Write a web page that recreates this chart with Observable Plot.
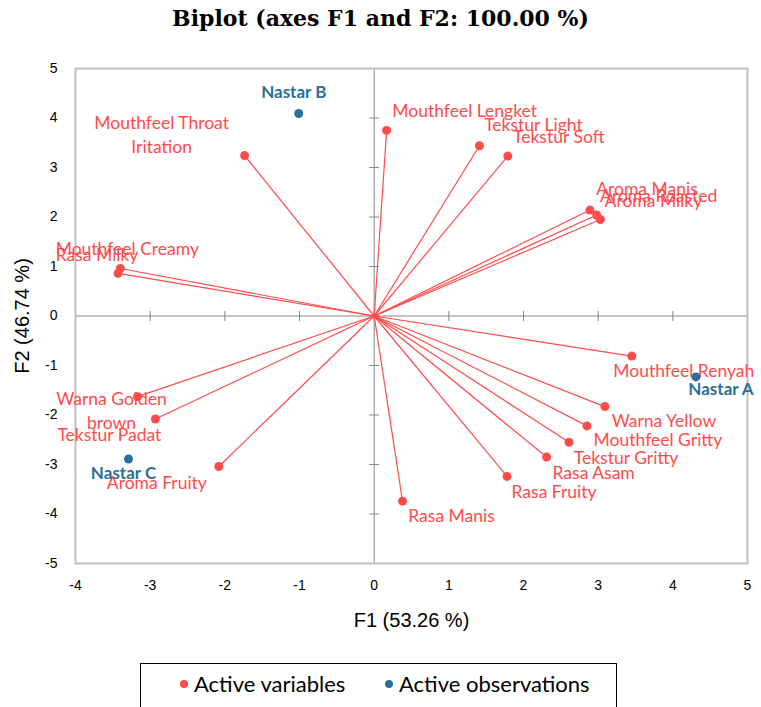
<!DOCTYPE html>
<html>
<head>
<meta charset="utf-8">
<script src="https://cdn.jsdelivr.net/npm/d3@7"></script>
<script src="https://cdn.jsdelivr.net/npm/@observablehq/plot@0.6"></script>
<style>
  html, body { margin: 0; padding: 0; background: #fff; width: 761px; height: 707px; overflow: hidden; }
  #wrap { position: relative; width: 761px; height: 707px; }
  #title { position: absolute; top: 5px; left: 0; width: 761px; text-align: center;
           font-family: "DejaVu Serif", serif; font-weight: bold; font-size: 22px; color: #000; }
  #legend { position: absolute; left: 140px; top: 663px; width: 477px; height: 60px;
            border: 1px solid #000; box-sizing: border-box; font-family: Lato, sans-serif; font-size: 22px; color: #000; }
  .li { position: absolute; top: 6px; white-space: nowrap; }
  .sw { display: inline-block; width: 8px; height: 8px; border-radius: 50%; margin-right: 6px; vertical-align: 4px; }
</style>
</head>
<body>
<div id="wrap">
  <div id="title">Biplot (axes F1 and F2: 100.00 %)</div>
  <div id="chart"></div>
  <div id="legend">
    <span class="li" style="left:39px"><span class="sw" style="background:#ff4b4b"></span>Active variables</span>
    <span class="li" style="left:244px"><span class="sw" style="background:#2a6f97"></span>Active observations</span>
  </div>
</div>
<script>
// ---- data ----
const varNames = [
  "Mouthfeel Throat\nIritation", "Mouthfeel Creamy", "Rasa Milky", "Mouthfeel Lengket",
  "Tekstur Light", "Tekstur Soft", "Aroma Manis", "Aroma Roasted", "Aroma Milky",
  "Mouthfeel Renyah", "Warna Yellow", "Mouthfeel Gritty", "Tekstur Gritty", "Rasa Asam",
  "Rasa Fruity", "Rasa Manis", "Warna Golden\nbrown", "Tekstur Padat", "Aroma Fruity"
];
const varF1 = [-1.735, -3.40, -3.43, 0.167, 1.41, 1.79, 2.89, 2.98, 3.03,
               3.45, 3.09, 2.85, 2.61, 2.31, 1.78, 0.38, -3.17, -2.93, -2.08];
const varF2 = [3.24, 0.96, 0.86, 3.75, 3.44, 3.23, 2.14, 2.04, 1.95,
               -0.81, -1.83, -2.22, -2.55, -2.85, -3.24, -3.74, -1.63, -2.08, -3.04];
const obsNames = ["Nastar A", "Nastar B", "Nastar C"];
const obsF1 = [4.31, -1.01, -3.29];
const obsF2 = [-1.23, 4.09, -2.89];
const xTicks = [-4, -3, -2, -1, 0, 1, 2, 3, 4, 5];
const yTicks = [-5, -4, -3, -2, -1, 0, 1, 2, 3, 4, 5];
const xLabel = "F1 (53.26 %)";
const yLabel = "F2 (46.74 %)";

// ---- label placement (styling, pixel offsets from each point) ----
const varLabelDx = [-83, 7, -21, 78, 54, 51, 57, 62, 53, 52, 59, 71, 57, 47, 47, 49, -26, -46, -62];
const varLabelDy = [-22, -21, -20, -21, -22, -21, -23, -21, -20, 13, 13, 13, 14, 14, 14, 13, 13, 14, 15];
const obsLabelDx = [25, -5, -5];
const obsLabelDy = [13, -21, 14];

const RED = "#ff4b4b";
const BLUE = "#2a6f97";
const GRAY = "#868686";

const vars = varNames.map((n, i) => ({name: n, f1: varF1[i], f2: varF2[i]}));
const obs = obsNames.map((n, i) => ({name: n, f1: obsF1[i], f2: obsF2[i]}));

const hTick = {draw(ctx) { ctx.moveTo(-5, 0); ctx.lineTo(5, 0); }};
const vTick = {draw(ctx) { ctx.moveTo(0, -5); ctx.lineTo(0, 5); }};

const labelMarks = [];
vars.forEach((d, i) => {
  labelMarks.push(Plot.text([d], {x: "f1", y: "f2", text: "name", dx: varLabelDx[i], dy: varLabelDy[i],
    fill: RED, fontSize: 17.5, fontFamily: "Lato, sans-serif", lineHeight: 1.35, lineAnchor: "middle", textAnchor: "middle"}));
});
obs.forEach((d, i) => {
  labelMarks.push(Plot.text([d], {x: "f1", y: "f2", text: "name", dx: obsLabelDx[i], dy: obsLabelDy[i],
    fill: BLUE, fontSize: 17, fontWeight: "bold", fontFamily: "Lato, sans-serif", lineAnchor: "middle", textAnchor: "middle"}));
});

const chart = Plot.plot({
  width: 761,
  height: 707,
  marginLeft: 75,
  marginRight: 14,
  marginTop: 68,
  marginBottom: 144,
  style: {fontFamily: "'Liberation Sans', Arial, sans-serif", background: "transparent"},
  x: {domain: [-4, 5]},
  y: {domain: [-5, 5]},
  marks: [
    Plot.ruleX([0], {stroke: GRAY, strokeWidth: 1}),
    Plot.ruleY([0], {stroke: GRAY, strokeWidth: 1}),
    Plot.dot(yTicks, {x: 0, y: d => d, symbol: hTick, fill: "none", stroke: GRAY, strokeWidth: 1}),
    Plot.dot(xTicks, {x: d => d, y: 0, symbol: vTick, fill: "none", stroke: GRAY, strokeWidth: 1}),
    Plot.frame({stroke: "#bfbfbf", strokeWidth: 2}),
    Plot.axisX({ticks: xTicks, tickSize: 0, tickPadding: 17, fontSize: 14, label: null, tickFormat: d => String(d)}),
    Plot.axisY({ticks: yTicks, tickSize: 0, tickPadding: 18, fontSize: 14, label: null, tickFormat: d => String(d)}),
    Plot.text([xLabel], {frameAnchor: "bottom", dy: 57, text: d => d, fontSize: 20, fill: "#000", lineAnchor: "middle", textAnchor: "middle"}),
    Plot.text([yLabel], {frameAnchor: "left", dx: -53, text: d => d, fontSize: 20, fill: "#000", rotate: -90, lineAnchor: "middle", textAnchor: "middle"}),
    Plot.link(vars, {x1: () => 0, y1: () => 0, x2: "f1", y2: "f2", stroke: RED, strokeWidth: 1.2}),
    ...labelMarks,
    Plot.dot(vars, {x: "f1", y: "f2", r: 4.5, fill: RED}),
    Plot.dot(obs, {x: "f1", y: "f2", r: 4.5, fill: BLUE})
  ]
});
document.getElementById("chart").appendChild(chart);
</script>
</body>
</html>
